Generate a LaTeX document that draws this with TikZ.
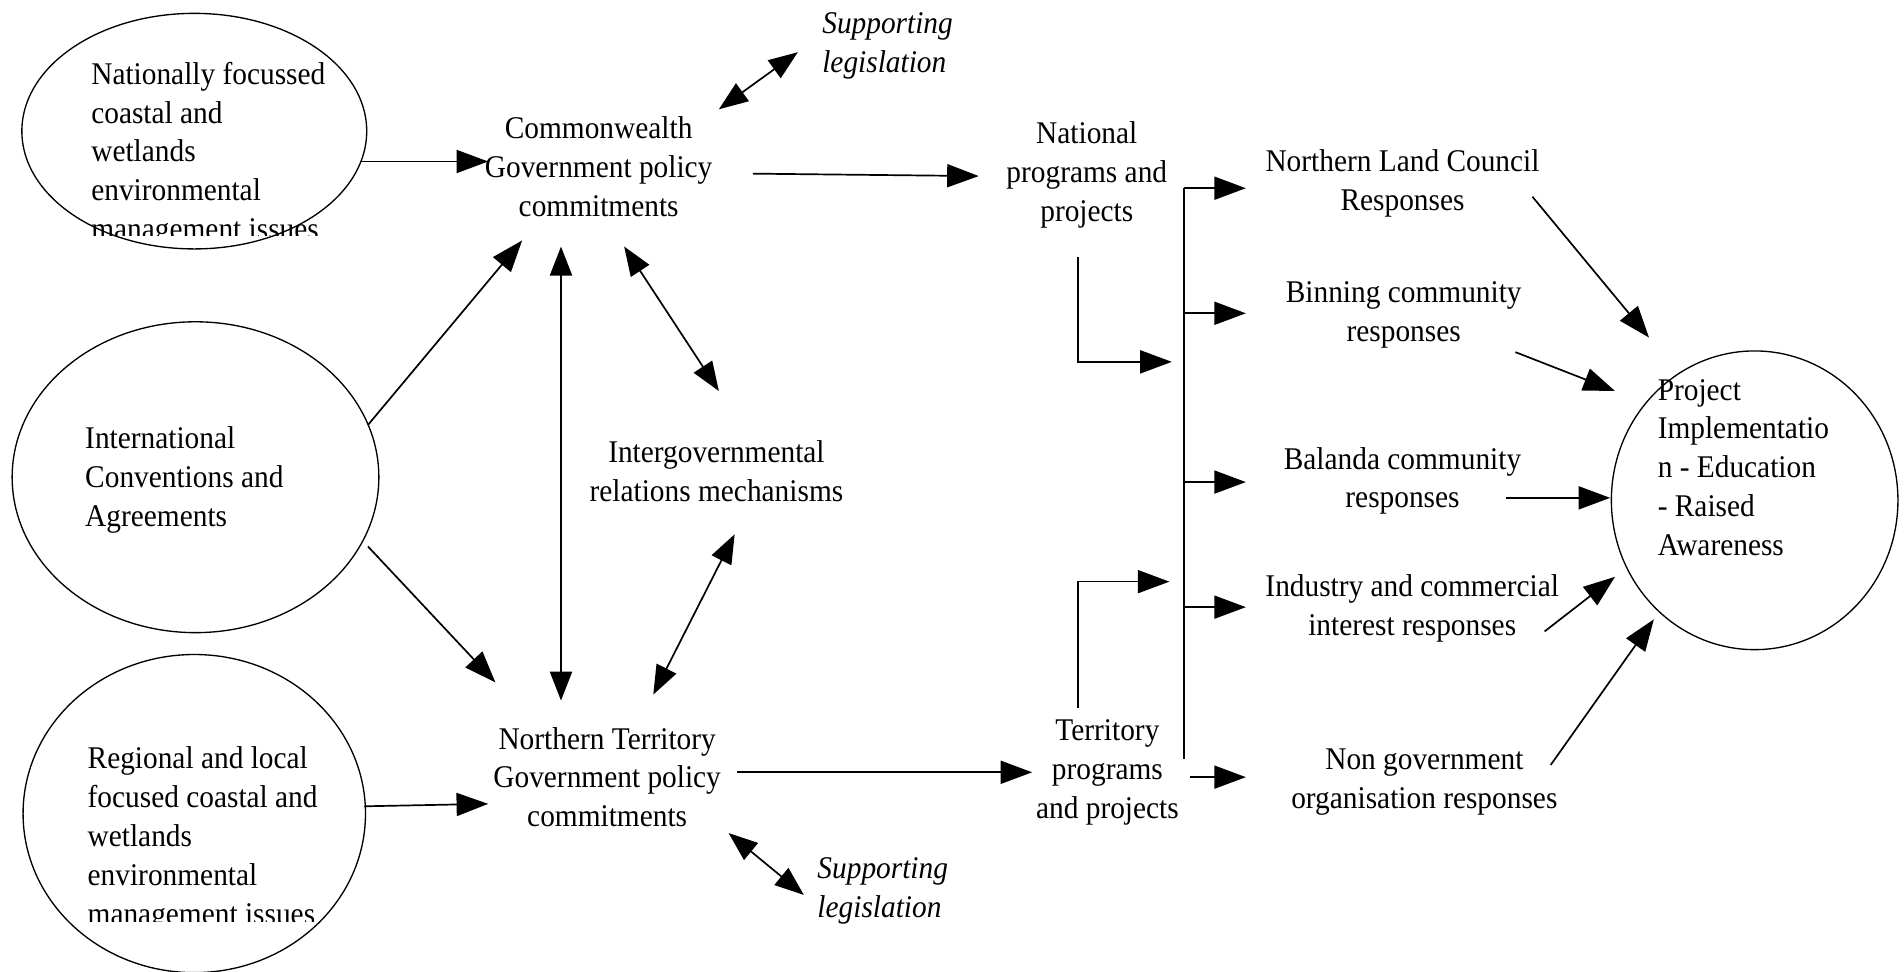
\documentclass[tikz,border=0pt]{standalone}
\usepackage{fontspec}
\setmainfont{Liberation Serif}[FakeStretch=0.93]
\usetikzlibrary{arrows.meta,shapes.geometric}
\begin{document}
\begin{tikzpicture}[x=1pt,y=-1pt,
  txt/.style={font=\fontsize{26}{32}\selectfont, inner sep=0pt, align=center},
  ltxt/.style={font=\fontsize{26}{32}\selectfont, inner sep=0pt, align=left, anchor=west},
  itx/.style={font=\fontsize{26}{32}\selectfont\itshape, inner sep=0pt, align=left, anchor=west},
  oval/.style={draw, ellipse, line width=1.1pt, inner sep=0pt},
  arr/.style={line width=1.4pt, -{Triangle[length=26pt,width=19pt]}},
  darr/.style={line width=1.4pt, {Triangle[length=24pt,width=18pt]}-{Triangle[length=24pt,width=18pt]}},
  plain/.style={line width=1.4pt}
]
\useasboundingbox (0,0) rectangle (1568,800);

% ovals
\node[oval, minimum width=284pt, minimum height=194pt] (e1) at (160,108) {};
\node[oval, minimum width=302pt, minimum height=256pt] (e2) at (161,393) {};
\node[oval, minimum width=282pt, minimum height=262pt] (e3) at (160,670) {};
\node[oval, minimum width=236pt, minimum height=246pt] (e4) at (1445,412) {};

% oval texts
\begin{scope}
\clip (0,0) rectangle (1568,194);
\node[ltxt] (t1) at (75,127) {Nationally focussed\\coastal and\\wetlands\\environmental\\management issues};
\end{scope}
\node[ltxt] (t2) at (70,395) {International\\Conventions and\\Agreements};
\begin{scope}
\clip (0,560) rectangle (1568,759);
\node[ltxt] (t3) at (72,691) {Regional and local\\focused coastal and\\wetlands\\environmental\\management issues};
\end{scope}
\node[ltxt] (t4) at (1365,385) {Project\\Implementatio\\n - Education\\- Raised\\Awareness};

% text nodes
\node[txt] (com) at (493,137) {Commonwealth\\Government policy\\commitments};
\node[txt] (nt) at (500,640) {Northern Territory\\Government policy\\commitments};
\node[txt] (inter) at (590,388) {Intergovernmental\\relations mechanisms};
\node[itx] (sup1) at (677,38) {Supporting\\legislation};
\node[itx] (sup2) at (673,734) {Supporting\\legislation};
\node[txt] (nat) at (895,144) {National\\programs and\\projects};
\node[txt] (terr) at (912,636) {Territory\\programs\\and projects};
\node[txt] (nlc) at (1155,151) {Northern Land Council\\Responses};
\node[txt] (bin) at (1156,259) {Binning community\\responses};
\node[txt] (bal) at (1155,396) {Balanda community\\responses};
\node[txt] (ind) at (1163,501) {Industry and commercial\\interest responses};
\node[txt] (ngo) at (1173,644) {Non government\\organisation responses};
\node[txt] (pg) at (755,814) {10};

% coordinates
\coordinate (e1o) at (297,133);
\coordinate (comW) at (402,133);
\coordinate (e2u) at (303,350);
\coordinate (comSW) at (430,198);
\coordinate (e2d) at (303,450);
\coordinate (ntNW) at (408,562);
\coordinate (comS) at (462,203);
\coordinate (ntN) at (462,577);
\coordinate (comSE) at (514,203);
\coordinate (interNW) at (592,322);
\coordinate (interSE) at (605,440);
\coordinate (ntNE) at (538,572);
\coordinate (comNE) at (592,90);
\coordinate (sup1W) at (657,43);
\coordinate (ntSE) at (600,686);
\coordinate (sup2W) at (662,737);
\coordinate (e3o) at (300,664);
\coordinate (ntW) at (402,662);
\coordinate (comE) at (620,143);
\coordinate (natW) at (806,145);
\coordinate (ntE) at (607,636);
\coordinate (terrW) at (850,636);
\coordinate (natS) at (888,212);
\coordinate (natT) at (965,298);
\coordinate (terrN) at (888,583);
\coordinate (terrT) at (963,479);
\coordinate (busT) at (975,155);
\coordinate (busB) at (975,625);
\coordinate (b2) at (975,258);
\coordinate (b3) at (975,397);
\coordinate (b4) at (975,500);
\coordinate (b5) at (980,640);
\coordinate (nlcW) at (1026,155);
\coordinate (binW) at (1026,258);
\coordinate (balW) at (1026,397);
\coordinate (indW) at (1026,500);
\coordinate (ngoW) at (1026,640);
\coordinate (nlcE) at (1262,162);
\coordinate (binE) at (1248,290);
\coordinate (balE) at (1240,410);
\coordinate (indE) at (1272,520);
\coordinate (ngoE) at (1277,630);
\coordinate (p1) at (1358,278);
\coordinate (p2) at (1330,322);
\coordinate (p3) at (1326,410);
\coordinate (p4) at (1330,475);
\coordinate (p5) at (1362,510);

% connectors
\draw[arr] (e1o) -- (comW);
\draw[arr] (e2u) -- (comSW);
\draw[arr] (e2d) -- (ntNW);
\draw[arr] (e3o) -- (ntW);
\draw[darr, line width=2.4pt] (comS) -- (ntN);
\draw[darr] (comSE) -- (interNW);
\draw[darr] (interSE) -- (ntNE);
\draw[darr] (comNE) -- (sup1W);
\draw[darr] (ntSE) -- (sup2W);
\draw[arr] (comE) -- (natW);
\draw[arr] (ntE) -- (terrW);
\draw[arr] (natS) |- (natT);
\draw[arr] (terrN) |- (terrT);
\draw[plain] (busT) -- (busB);
\draw[arr] (busT) -- (nlcW);
\draw[arr] (b2) -- (binW);
\draw[arr] (b3) -- (balW);
\draw[arr] (b4) -- (indW);
\draw[arr] (b5) -- (ngoW);
\draw[arr] (nlcE) -- (p1);
\draw[arr] (binE) -- (p2);
\draw[arr] (balE) -- (p3);
\draw[arr] (indE) -- (p4);
\draw[arr] (ngoE) -- (p5);
\end{tikzpicture}
\end{document}
